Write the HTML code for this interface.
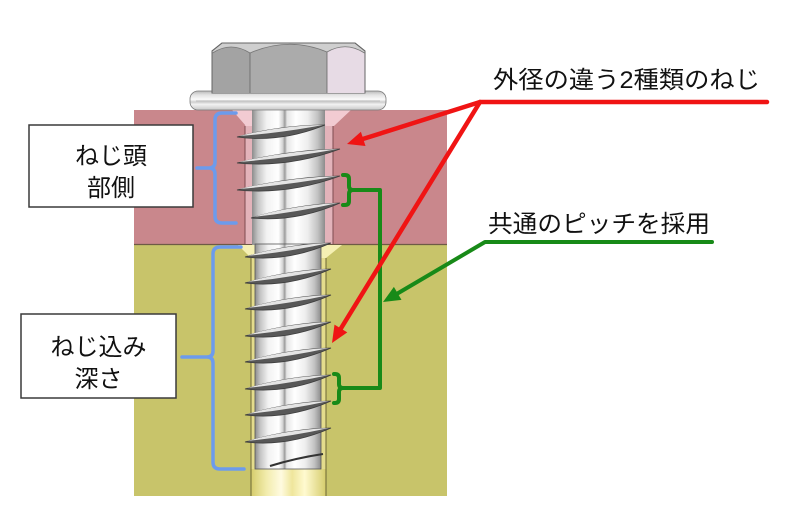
<!DOCTYPE html>
<html>
<head>
<meta charset="utf-8">
<style>
  html,body{margin:0;padding:0;background:#fff;}
  svg{display:block;}
  .jp{font-family:"Liberation Sans","Noto Sans CJK JP",sans-serif;fill:#111;}
</style>
</head>
<body>
<svg width="800" height="528" viewBox="0 0 800 528" xmlns="http://www.w3.org/2000/svg">
  <defs>
    <linearGradient id="shank" x1="0" y1="0" x2="1" y2="0">
      <stop offset="0" stop-color="#8c8c8c"/>
      <stop offset="0.08" stop-color="#c4c4c4"/>
      <stop offset="0.2" stop-color="#f2f2f2"/>
      <stop offset="0.36" stop-color="#ffffff"/>
      <stop offset="0.42" stop-color="#d4d4d4"/>
      <stop offset="0.45" stop-color="#9c9c9c"/>
      <stop offset="0.48" stop-color="#e6e6e6"/>
      <stop offset="0.6" stop-color="#ffffff"/>
      <stop offset="0.76" stop-color="#eeeeee"/>
      <stop offset="0.9" stop-color="#c2c2c2"/>
      <stop offset="1" stop-color="#8c8c8c"/>
    </linearGradient>
    <linearGradient id="washer" x1="0" y1="0" x2="0" y2="1">
      <stop offset="0" stop-color="#b8b8b8"/>
      <stop offset="0.2" stop-color="#e2e2e2"/>
      <stop offset="0.45" stop-color="#fbfbfb"/>
      <stop offset="0.58" stop-color="#cdcdcd"/>
      <stop offset="0.7" stop-color="#f2f2f2"/>
      <stop offset="1" stop-color="#c8c8c8"/>
    </linearGradient>
    <linearGradient id="chan" x1="0" y1="0" x2="1" y2="0">
      <stop offset="0" stop-color="#d6cd6e"/>
      <stop offset="0.2" stop-color="#f2ecac"/>
      <stop offset="0.4" stop-color="#fffbe0"/>
      <stop offset="0.55" stop-color="#efe69c"/>
      <stop offset="0.72" stop-color="#fffad0"/>
      <stop offset="1" stop-color="#d6cd6e"/>
    </linearGradient>
  </defs>

  <!-- material blocks -->
  <rect x="134" y="110" width="313" height="134" fill="#c9878c"/>
  <rect x="134" y="244" width="313" height="252" fill="#c8c46a"/>
  <line x1="134" y1="244.5" x2="447" y2="244.5" stroke="#6e5a45" stroke-width="1.2"/>

  <!-- holes -->
  <rect x="245" y="110" width="88" height="134" fill="#e3b3ba"/>
  <rect x="251" y="245" width="75" height="251" fill="#e4dc8c"/>
  <!-- countersinks -->
  <polygon points="232,110 253,110 253,126 246,126" fill="#f2cbd2"/>
  <polygon points="323,110 351,110 334,126 323,126" fill="#f2cbd2"/>
  <polygon points="238,245 256,245 256,258 251,258" fill="#f5f0b4"/>
  <polygon points="320,245 342,245 326,258 320,258" fill="#f5f0b4"/>
  <!-- hole walls -->
  <line x1="245" y1="126" x2="245" y2="244" stroke="#7e4b50" stroke-width="1"/>
  <line x1="333" y1="126" x2="333" y2="244" stroke="#7e4b50" stroke-width="1"/>
  <line x1="251" y1="258" x2="251" y2="496" stroke="#6b6636" stroke-width="1"/>
  <line x1="326" y1="258" x2="326" y2="496" stroke="#6b6636" stroke-width="1"/>
  <!-- bottom channel -->
  <rect x="251.5" y="469" width="74" height="27" fill="url(#chan)"/>

  <!-- shank -->
  <rect x="252" y="108" width="73" height="137" fill="url(#shank)"/>
  <rect x="255" y="244" width="66" height="225" fill="url(#shank)" stroke="#555" stroke-width="0.8"/>

  <!-- upper threads -->
  <g stroke="#3e3e3e" stroke-width="0.8" fill="#585858">
    <path d="M237,137 Q281,125 325,125 Q281,143 237,137 Z"/>
    <path d="M237,163 Q288.5,150 340,149 Q288.5,168 237,163 Z"/>
    <path d="M237,190 Q288.5,177 340,176 Q288.5,195 237,190 Z"/>
    <path d="M251,218 Q295.5,204.5 340,203 Q295.5,222.5 251,218 Z"/>
  </g>
  <g fill="#e4e4e4">
    <path d="M239,136 Q281,125.5 323,125 Q281,133 239,136 Z"/>
    <path d="M239,162 Q288.5,150.5 338,149 Q288.5,158 239,162 Z"/>
    <path d="M239,189 Q288.5,177.5 338,176 Q288.5,185 239,189 Z"/>
    <path d="M253,217 Q295.5,205 338,203 Q295.5,212.5 253,217 Z"/>
  </g>

  <!-- lower threads -->
  <g stroke="#3e3e3e" stroke-width="0.8" fill="#585858">
    <path d="M245,257 Q288,244 331,243 Q288,262 245,257 Z"/>
    <path d="M245,283 Q288,270 331,269 Q288,288 245,283 Z"/>
    <path d="M245,309 Q288,296 331,295 Q288,314 245,309 Z"/>
    <path d="M245,336 Q288,323 331,322 Q288,341 245,336 Z"/>
    <path d="M245,362 Q288,349 331,348 Q288,367 245,362 Z"/>
    <path d="M245,389 Q288,376 331,375 Q288,394 245,389 Z"/>
    <path d="M245,415 Q288,402 331,401 Q288,420 245,415 Z"/>
    <path d="M245,442 Q288,429 331,428 Q288,447 245,442 Z"/>
  </g>
  <g fill="#e4e4e4">
    <path d="M247,256 Q288,244.5 329,243 Q288,252 247,256 Z"/>
    <path d="M247,282 Q288,270.5 329,269 Q288,278 247,282 Z"/>
    <path d="M247,308 Q288,296.5 329,295 Q288,304 247,308 Z"/>
    <path d="M247,335 Q288,323.5 329,322 Q288,331 247,335 Z"/>
    <path d="M247,361 Q288,349.5 329,348 Q288,357 247,361 Z"/>
    <path d="M247,388 Q288,376.5 329,375 Q288,384 247,388 Z"/>
    <path d="M247,414 Q288,402.5 329,401 Q288,410 247,414 Z"/>
    <path d="M247,441 Q288,429.5 329,428 Q288,437 247,441 Z"/>
  </g>
  <path d="M270,466 Q296,458 323,454" stroke="#333" stroke-width="2" fill="none"/>

  <!-- washer -->
  <rect x="190" y="91" width="196" height="19" rx="8" ry="8" fill="url(#washer)" stroke="#7a7a7a" stroke-width="0.8"/>
  <line x1="196" y1="101" x2="380" y2="101" stroke="#bdbdbd" stroke-width="1"/>

  <!-- hex head -->
  <path d="M212,93 L212,51 L222,43 L355,43 L365,51 L365,93 Z" fill="#cfcfcf" stroke="#666" stroke-width="1"/>
  <path d="M212.5,93 L212.5,53 Q231,41 250,53 L250,93 Z" fill="#a3a3a3"/>
  <path d="M250,93 L250,53 Q289,36 327,52 L327,93 Z" fill="#ababab"/>
  <path d="M327,93 L327,52 Q346,41 364.5,53 L364.5,93 Z" fill="#e7dbe5"/>
  <path d="M212.5,53 Q231,41 250,53 Q289,36 327,52 Q346,41 364.5,53" fill="none" stroke="#777" stroke-width="0.8"/>
  <line x1="250" y1="53" x2="250" y2="93" stroke="#666" stroke-width="0.8"/>
  <line x1="327" y1="52" x2="327" y2="93" stroke="#666" stroke-width="0.8"/>
  <path d="M212,93 L212,51 L222,43 L355,43 L365,51 L365,93" fill="none" stroke="#666" stroke-width="1"/>

  <!-- blue braces -->
  <g fill="none" stroke="#6c9bec" stroke-width="3.5" stroke-linecap="round" stroke-linejoin="round">
    <path d="M236,113 L222,113 Q215,113 215,120 L215,162 Q215,168 209,168 L197,168 M209,168 Q215,168 215,174 L215,216 Q215,223 222,223 L236,223"/>
    <path d="M241,247 L220,247 Q213,247 213,254 L213,351 Q213,357 207,357 L182,357 M207,357 Q213,357 213,363 L213,462 Q213,469 220,469 L244,469"/>
  </g>

  <!-- label boxes -->
  <rect x="29" y="125" width="164" height="82" fill="#fff" stroke="#3a3a3a" stroke-width="1.5"/>
  <rect x="21" y="314" width="155" height="84" fill="#fff" stroke="#3a3a3a" stroke-width="1.5"/>
  <text class="jp" x="111" y="164" font-size="24" text-anchor="middle">ねじ頭</text>
  <text class="jp" x="111" y="196" font-size="24" text-anchor="middle">部側</text>
  <text class="jp" x="98.5" y="355" font-size="24" text-anchor="middle">ねじ込み</text>
  <text class="jp" x="98.5" y="387" font-size="24" text-anchor="middle">深さ</text>

  <!-- green annotation -->
  <g fill="none" stroke="#188a18" stroke-width="4" stroke-linecap="round" stroke-linejoin="round">
    <path d="M343,175 L345,175 Q349,175 349,179 L349,186 Q349,190 353,190 M353,190 Q349,190 349,194 L349,201 Q349,205 345,205 L343,205"/>
    <path d="M334,374 L335,374 Q339,374 339,378 L339,384 Q339,388 343,388 M343,388 Q339,388 339,392 L339,399 Q339,403 335,403 L334,403"/>
    <path d="M353,190 L380,190 L380,388 L343,388"/>
    <path d="M397.7,293.4 L485,242 L712,242"/>
  </g>
  <polygon points="383,302 401.5,299.9 393.9,286.9" fill="#188a18"/>

  <!-- red annotation -->
  <g fill="none" stroke="#f01414" stroke-width="4.5" stroke-linecap="round" stroke-linejoin="round">
    <path d="M363.2,138.9 L480,102 L767,102"/>
    <path d="M480,102 L340.9,328.5"/>
  </g>
  <polygon points="347,144 365.5,146.0 360.9,131.7" fill="#f01414"/>
  <polygon points="332,343 347.3,332.4 334.5,324.6" fill="#f01414"/>

  <!-- right labels -->
  <text class="jp" x="493" y="88" font-size="24" textLength="267" lengthAdjust="spacingAndGlyphs">外径の違う2種類のねじ</text>
  <text class="jp" x="488" y="232" font-size="24" textLength="222" lengthAdjust="spacingAndGlyphs">共通のピッチを採用</text>
</svg>
</body>
</html>
